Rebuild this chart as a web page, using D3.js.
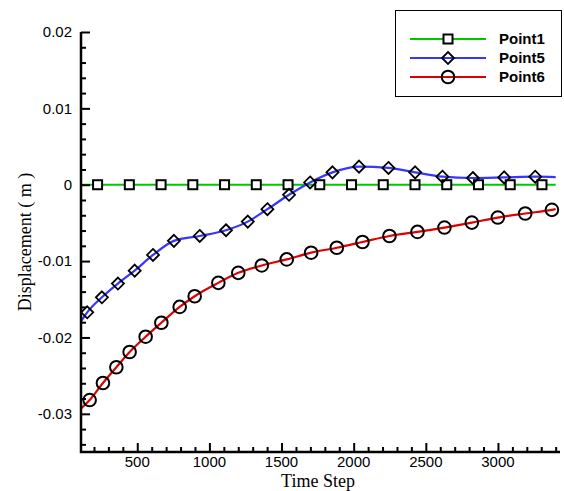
<!DOCTYPE html>
<html>
<head>
<meta charset="utf-8">
<script src="https://cdn.jsdelivr.net/npm/d3@7"></script>
<style>
  body { margin: 0; background: #fff; }
  svg { display: block; }
</style>
</head>
<body>
<div id="chart"></div>
<script>
// Point1 stays at zero
var p1Line = [[110, 0], [3400, 0]];
var p1Marks = [[225, 0], [445, 0], [665, 0], [885, 0], [1105, 0], [1325, 0], [1545, 0], [1765, 0],
               [1985, 0], [2205, 0], [2425, 0], [2645, 0], [2865, 0], [3085, 0], [3305, 0]];

// Point5
var p5Marks = [[153, -0.01671], [255, -0.01474], [366, -0.01294], [482, -0.01125], [609, -0.0092],
               [754, -0.00735], [933, -0.00671], [1115, -0.00596], [1266, -0.00483], [1402, -0.0032],
               [1552, -0.00132], [1698, 0.0003], [1853, 0.00162], [2037, 0.00237], [2241, 0.0022],
               [2426, 0.00162], [2615, 0.00105], [2826, 0.00088], [3043, 0.00096], [3258, 0.00105]];
var p5Line = [[110, -0.0179]].concat(p5Marks, [[3400, 0.001]]);

// Point6
var p6Marks = [[170, -0.0282], [262, -0.02596], [355, -0.0239], [447, -0.0219], [558, -0.0199],
               [667, -0.01807], [794, -0.0160], [898, -0.0146], [1062, -0.01285], [1200, -0.01154],
               [1363, -0.01057], [1536, -0.00978], [1705, -0.0089], [1883, -0.00825], [2061, -0.0075],
               [2248, -0.00671], [2442, -0.00618], [2629, -0.00561], [2819, -0.00496], [2999, -0.0043],
               [3189, -0.00377], [3374, -0.00329]];
var p6Line = [[110, -0.0293]].concat(p6Marks, [[3400, -0.0032]]);

var xMajor = [500, 1000, 1500, 2000, 2500, 3000];
var xMinor = [200, 300, 400, 600, 700, 800, 900, 1100, 1200, 1300, 1400, 1600, 1700, 1800, 1900,
              2100, 2200, 2300, 2400, 2600, 2700, 2800, 2900, 3100, 3200, 3300, 3400];
var yMajor = [0.02, 0.01, 0, -0.01, -0.02, -0.03];
var yMinor = [0.018, 0.016, 0.014, 0.012, 0.008, 0.006, 0.004, 0.002, -0.002, -0.004, -0.006, -0.008,
              -0.012, -0.014, -0.016, -0.018, -0.022, -0.024, -0.026, -0.028, -0.032, -0.034];

var series = [
    { name: "Point1", line: p1Line, marks: p1Marks, color: "#00c800", shape: "square" },
    { name: "Point5", line: p5Line, marks: p5Marks, color: "#3636ff", shape: "diamond" },
    { name: "Point6", line: p6Line, marks: p6Marks, color: "#e00000", shape: "circle" }
];

var W = 564, H = 491;
var svg = d3.select("#chart").append("svg")
    .attr("width", W)
    .attr("height", H);

var x = d3.scaleLinear().domain([110, 3430]).range([81, 560]);
var y = d3.scaleLinear().domain([-0.035, 0.02]).range([452, 32]);

var line = d3.line()
    .x(function(d) { return x(d[0]); })
    .y(function(d) { return y(d[1]); })
    .curve(d3.curveMonotoneX);

function drawMark(g, shape, cx, cy) {
    if (shape === "square") {
        g.append("rect").attr("x", cx - 4.5).attr("y", cy - 4.5).attr("width", 9).attr("height", 9)
            .attr("fill", "#fff").attr("stroke", "#000").attr("stroke-width", 2);
    } else if (shape === "diamond") {
        g.append("path")
            .attr("d", "M" + cx + "," + (cy - 6) + "L" + (cx + 6) + "," + cy + "L" + cx + "," + (cy + 6) + "L" + (cx - 6) + "," + cy + "Z")
            .attr("fill", "none").attr("stroke", "#000").attr("stroke-width", 1.8);
    } else {
        g.append("circle").attr("cx", cx).attr("cy", cy).attr("r", 6.3)
            .attr("fill", "none").attr("stroke", "#000").attr("stroke-width", 2);
    }
}

// lines
series.forEach(function(s) {
    svg.append("path")
        .datum(s.line)
        .attr("fill", "none")
        .attr("stroke", s.color)
        .attr("stroke-width", 2.2)
        .attr("d", line);
});

// markers
series.forEach(function(s) {
    var g = svg.append("g");
    s.marks.forEach(function(d) {
        drawMark(g, s.shape, x(d[0]), y(d[1]));
    });
});

// axes, ticks pointing inward
var xAxis = svg.append("g")
    .attr("transform", "translate(0,452)")
    .call(d3.axisTop(x).tickValues(xMajor).tickSize(9).tickFormat(""));
xAxis.append("g").call(d3.axisTop(x).tickValues(xMinor).tickSize(5).tickFormat(""));
xAxis.selectAll(".domain").remove();
xAxis.selectAll("line").attr("stroke", "#000").attr("stroke-width", 2);

var yAxis = svg.append("g")
    .attr("transform", "translate(81,0)")
    .call(d3.axisRight(y).tickValues(yMajor).tickSize(9).tickFormat(""));
yAxis.append("g").call(d3.axisRight(y).tickValues(yMinor).tickSize(5).tickFormat(""));
yAxis.selectAll(".domain").remove();
yAxis.selectAll("line").attr("stroke", "#000").attr("stroke-width", 2);

svg.append("path")
    .attr("d", "M81,32V452H560")
    .attr("fill", "none")
    .attr("stroke", "#000")
    .attr("stroke-width", 2.5);

// tick labels
svg.append("g").selectAll("text")
    .data(xMajor)
    .enter().append("text")
    .attr("x", function(d) { return x(d); })
    .attr("y", 467)
    .attr("text-anchor", "middle")
    .style("font-family", "'Liberation Sans', Arial, sans-serif")
    .style("font-size", "15px")
    .text(function(d) { return d; });

svg.append("g").selectAll("text")
    .data(yMajor)
    .enter().append("text")
    .attr("x", 72)
    .attr("y", function(d) { return y(d); })
    .attr("dy", "0.36em")
    .attr("text-anchor", "end")
    .style("font-family", "'Liberation Sans', Arial, sans-serif")
    .style("font-size", "15px")
    .text(function(d) { return d === 0 ? "0" : d3.format(".2f")(d).replace("\u2212", "-"); });

// axis titles
svg.append("text")
    .attr("x", 318)
    .attr("y", 487)
    .attr("text-anchor", "middle")
    .style("font-family", "'Liberation Serif', 'Times New Roman', serif")
    .style("font-size", "18px")
    .text("Time Step");

svg.append("text")
    .attr("transform", "translate(31,242) rotate(-90)")
    .attr("text-anchor", "middle")
    .style("font-family", "'Liberation Serif', 'Times New Roman', serif")
    .style("font-size", "18px")
    .text("Displacement ( m )");

// legend
var legend = svg.append("g");
legend.append("rect")
    .attr("x", 395.5).attr("y", 10.5)
    .attr("width", 166).attr("height", 86)
    .attr("fill", "#fff")
    .attr("stroke", "#000")
    .attr("stroke-width", 1);

series.forEach(function(s, i) {
    var ly = 39 + i * 19;
    legend.append("line")
        .attr("x1", 410).attr("x2", 486)
        .attr("y1", ly).attr("y2", ly)
        .attr("stroke", s.color)
        .attr("stroke-width", 2.2);
    drawMark(legend, s.shape, 448, ly);
    legend.append("text")
        .attr("x", 499)
        .attr("y", ly)
        .attr("dy", "0.36em")
        .style("font-family", "'Liberation Sans', Arial, sans-serif")
        .style("font-size", "15px")
        .style("font-weight", "bold")
        .text(s.name);
});
</script>
</body>
</html>
